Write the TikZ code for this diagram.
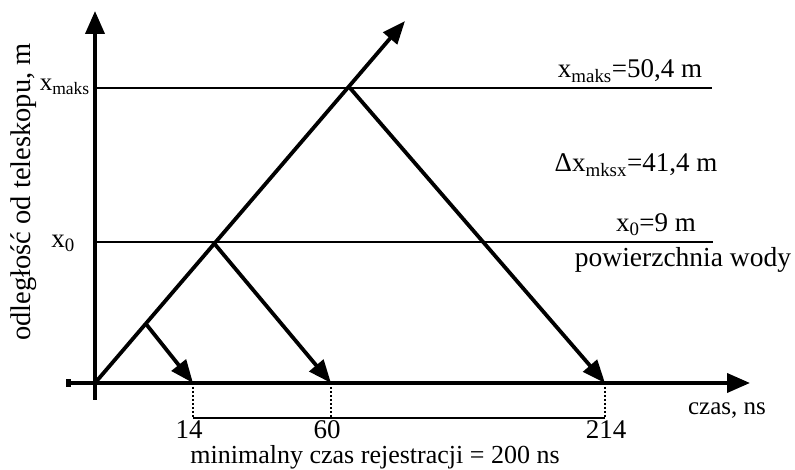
\documentclass[tikz,border=0pt]{standalone}
\usepackage{fontspec}
\setmainfont{Liberation Serif}
\usetikzlibrary{arrows.meta}

\newcommand{\lbl}[1]{{\fontsize{27}{29}\selectfont #1}}
\newcommand{\sbs}[1]{\textsubscript{#1}}

\begin{document}
\begin{tikzpicture}[x=1pt,y=1pt,
    axis/.style={line width=3.8pt,-{Triangle[length=23pt,width=19pt]}},
    ray/.style={line width=3.8pt,-{Triangle[length=23pt,width=18pt]}},
    level/.style={line width=2pt},
    guide/.style={line width=1.3pt,dashed,dash pattern=on 2.5pt off 1.5pt},
    txt/.style={anchor=base,inner sep=0pt}]
  \useasboundingbox (0,0) rectangle (795,470);

  % points of the chart
  \coordinate (O) at (95,87);
  \coordinate (A) at (146,146);
  \coordinate (B) at (213,228);
  \coordinate (C) at (350,382);
  \coordinate (T) at (405,449);
  \coordinate (a1) at (193,87);
  \coordinate (b1) at (331,87);
  \coordinate (c1) at (605,87);
  \coordinate (a2) at (193,52);
  \coordinate (b2) at (331,52);
  \coordinate (c2) at (605,52);
  \coordinate (xm) at (95,382);
  \coordinate (xmr) at (712,382);
  \coordinate (x0) at (95,228);
  \coordinate (x0r) at (713,228);

  % axes
  \draw[axis] (95,70) -- (95,459);
  \draw[axis,{Square[length=5pt,width=8pt]}-{Triangle[length=23pt,width=19pt]}] (66,87) -- (750,87);

  % levels
  \draw[level] (xm) -- (xmr);
  \draw[level] (x0) -- (x0r);

  % rays
  \draw[ray] (O) -- (T);
  \draw[ray] (A) -- (a1);
  \draw[ray] (B) -- (b1);
  \draw[ray] (C) -- (c1);

  % registration window
  \draw[guide] (a1) -- (a2);
  \draw[guide] (b1) -- (b2);
  \draw[guide] (c1) -- (c2);
  \draw[level] (a2) -- (c2);

  % labels
  \node[txt,anchor=base east] (lxm) at (90,379) {{\fontsize{25}{27}\selectfont x\sbs{maks}}};
  \node[txt,anchor=base east] (lx0) at (75,222) {\lbl{x\sbs{0}}};
  \node[txt] (txm) at (630,392) {\lbl{x\sbs{maks}=50,4 m}};
  \node[txt] (tdx) at (636,298) {\lbl{Δx\sbs{mksx}=41,4 m}};
  \node[txt] (tx0) at (656,238) {\lbl{x\sbs{0}=9 m}};
  \node[txt] (wat) at (683,203) {{\fontsize{27.5}{29}\selectfont powierzchnia wody}};
  \node[txt] (tcz) at (727,55) {{\fontsize{25}{27}\selectfont czas, ns}};
  \node[txt] (n14) at (189,31) {\lbl{14}};
  \node[txt] (n60) at (327,31) {\lbl{60}};
  \node[txt] (n214) at (606,31) {\lbl{214}};
  \node[txt] (win) at (375,6) {{\fontsize{26}{28}\selectfont minimalny czas rejestracji = 200 ns}};
  \node[txt,rotate=90] (yl) at (30,278) {{\fontsize{28.5}{30}\selectfont odległość od teleskopu, m}};
\end{tikzpicture}
\end{document}
